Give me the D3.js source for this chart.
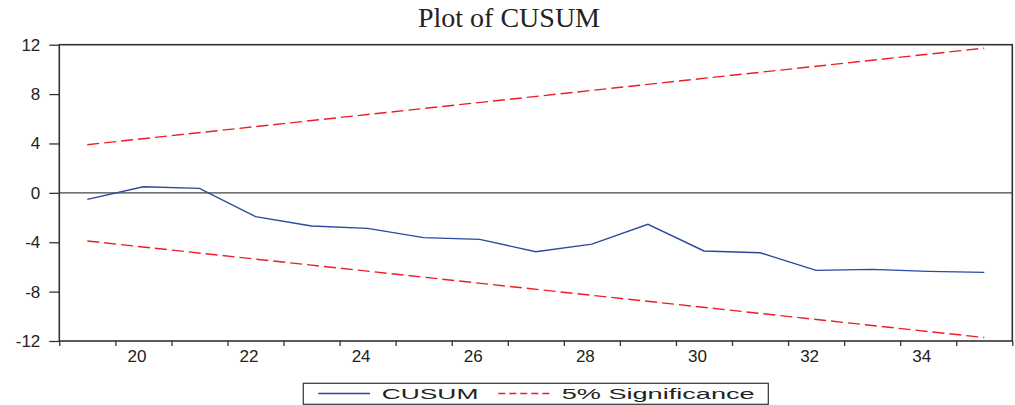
<html>
  <head>
    <meta charset="utf-8">
    <title>Plot of CUSUM</title>
    <style type="text/css">
      body { margin: 0; background: #fff; }
      .chart text { fill: #222; }
    </style>
    <script src="https://d3js.org/d3.v7.min.js"></script>
  </head>
  <body>
    <svg class="chart" width="1015" height="405"></svg>
    <script>

// data
var obs = [19, 20, 21, 22, 23, 24, 25, 26, 27, 28, 29, 30, 31, 32, 33, 34, 35];
var cusum = [-0.53, 0.49, 0.36, -1.93, -2.69, -2.88, -3.63, -3.77, -4.77, -4.15,
             -2.55, -4.71, -4.85, -6.28, -6.20, -6.36, -6.44];
var sigObs = [19, 35];
var sigUpper = [3.9, 11.72];
var sigLower = [-3.9, -11.72];
var yTicks = [-12, -8, -4, 0, 4, 8, 12];
var xLabels = [20, 22, 24, 26, 28, 30, 32, 34];
var xBounds = d3.range(18.5, 35.6, 1);

var margin = {top: 44.7, left: 59.3},
    width = 953,
    height = 296.3;

var svg = d3.select(".chart")
  .append("g")
    .attr("transform", "translate(" + margin.left + "," + margin.top + ")");

var x = d3.scaleLinear().domain([18.5, 35.5]).range([0, width]);
var y = d3.scaleLinear().domain([-12, 12]).range([height, 0]);

// title
d3.select(".chart").append("text")
  .attr("x", 509).attr("y", 26.5)
  .attr("text-anchor", "middle")
  .style("font-family", "'Liberation Serif', 'Times New Roman', serif")
  .style("font-size", "28px")
  .text("Plot of CUSUM");

// y axis
var yAxis = svg.append("g")
  .call(d3.axisLeft(y).tickValues(yTicks).tickSize(10).tickPadding(9).tickSizeOuter(0)
    .tickFormat(function(d) { return String(d); }));
yAxis.select(".domain").remove();
yAxis.selectAll("line").attr("stroke", "#333").attr("stroke-width", 1.3);
yAxis.selectAll("text")
  .style("font-family", "'Liberation Sans', Arial, sans-serif")
  .style("font-size", "17px");

// x tick marks between observations
var xTickAxis = svg.append("g")
  .attr("transform", "translate(0," + height + ")")
  .call(d3.axisBottom(x).tickValues(xBounds).tickSize(5).tickFormat("").tickSizeOuter(0));
xTickAxis.select(".domain").remove();
xTickAxis.selectAll("line").attr("stroke", "#333").attr("stroke-width", 1.3);

// x labels
var xLabAxis = svg.append("g")
  .attr("transform", "translate(-7," + height + ")")
  .call(d3.axisBottom(x).tickValues(xLabels).tickSize(0).tickPadding(8.6)
    .tickFormat(function(d) { return String(d); }));
xLabAxis.select(".domain").remove();
xLabAxis.selectAll("text")
  .style("font-family", "'Liberation Sans', Arial, sans-serif")
  .style("font-size", "17px");

// zero line
svg.append("line")
  .attr("x1", 0).attr("x2", width)
  .attr("y1", y(0)).attr("y2", y(0))
  .attr("stroke", "#444").attr("stroke-width", 1.4);

// frame
svg.append("rect")
  .attr("width", width).attr("height", height)
  .attr("fill", "none")
  .attr("stroke", "#333")
  .attr("stroke-width", 1.6);

var line = d3.line()
  .x(function(d) { return x(d[0]); })
  .y(function(d) { return y(d[1]); });

// significance bounds
[sigUpper, sigLower].forEach(function(b) {
  svg.append("path")
    .datum(d3.zip(sigObs, b))
    .attr("fill", "none")
    .attr("stroke", "#ee1c25")
    .attr("stroke-width", 1.4)
    .attr("stroke-dasharray", "12,5")
    .attr("d", line);
});

// cusum
svg.append("path")
  .datum(d3.zip(obs, cusum))
  .attr("fill", "none")
  .attr("stroke", "#2c48a0")
  .attr("stroke-width", 1.4)
  .attr("d", line);

// legend
var leg = d3.select(".chart").append("g");
leg.append("rect")
  .attr("x", 303.3).attr("y", 383.3)
  .attr("width", 465).attr("height", 21)
  .attr("fill", "#fff")
  .attr("stroke", "#333").attr("stroke-width", 1.2);
leg.append("line")
  .attr("x1", 318.3).attr("x2", 370).attr("y1", 393.5).attr("y2", 393.5)
  .attr("stroke", "#2c48a0").attr("stroke-width", 1.4);
leg.append("text")
  .attr("x", 381.7).attr("y", 399)
  .attr("textLength", 96.7).attr("lengthAdjust", "spacingAndGlyphs")
  .style("font-family", "'Liberation Sans', Arial, sans-serif")
  .style("font-size", "15px")
  .text("CUSUM");
leg.append("line")
  .attr("x1", 498.3).attr("x2", 550).attr("y1", 393.5).attr("y2", 393.5)
  .attr("stroke", "#ee1c25").attr("stroke-width", 1.4)
  .attr("stroke-dasharray", "7,4");
leg.append("text")
  .attr("x", 561.7).attr("y", 399)
  .attr("textLength", 193).attr("lengthAdjust", "spacingAndGlyphs")
  .style("font-family", "'Liberation Sans', Arial, sans-serif")
  .style("font-size", "15px")
  .text("5% Significance");

</script>
  </body>
</html>
